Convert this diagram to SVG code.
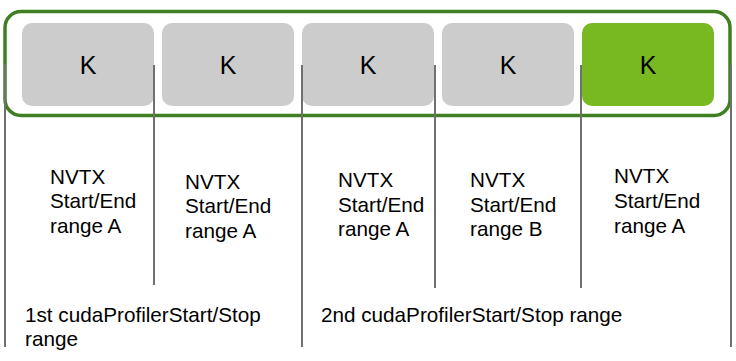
<svg xmlns="http://www.w3.org/2000/svg" width="736" height="361" viewBox="0 0 736 361">
<style>
.k{fill:#cccccc}
.kg{fill:#78b922}
.kt{font-family:"Liberation Sans",Arial,sans-serif;font-size:25px;fill:#000;text-anchor:middle}
.t{font-family:"Liberation Sans",Arial,sans-serif;font-size:20.7px;fill:#000}
.ln{stroke:#707070;stroke-width:2;fill:none}
</style>
<rect width="736" height="361" fill="#ffffff"/>
<g id="container">
<rect x="5" y="11.5" width="725" height="104" rx="16" ry="16" fill="#ffffff" stroke="#3f7f22" stroke-width="3.5"/>
</g>
<g id="k1"><rect class="k" x="22" y="23" width="132" height="83" rx="10"/><text class="kt" x="88" y="74">K</text></g>
<g id="k2"><rect class="k" x="162" y="23" width="132" height="83" rx="10"/><text class="kt" x="228" y="74">K</text></g>
<g id="k3"><rect class="k" x="302" y="23" width="132" height="83" rx="10"/><text class="kt" x="368" y="74">K</text></g>
<g id="k4"><rect class="k" x="442" y="23" width="132" height="83" rx="10"/><text class="kt" x="508" y="74">K</text></g>
<g id="k5"><rect class="kg" x="582" y="23" width="132" height="83" rx="10"/><text class="kt" x="648" y="74">K</text></g>
<g id="connectors">
<line class="ln" x1="5" y1="64" x2="5" y2="347"/>
<line class="ln" x1="154" y1="65" x2="154" y2="285"/>
<line class="ln" x1="302" y1="65" x2="302" y2="347"/>
<line class="ln" x1="435" y1="65" x2="435" y2="288"/>
<line class="ln" x1="581" y1="65" x2="581" y2="288"/>
<line class="ln" x1="731" y1="65" x2="731" y2="347"/>
</g>
<g id="label1"><text class="t" x="50" y="184">NVTX</text><text class="t" x="50" y="208">Start/End</text><text class="t" x="50" y="233">range A</text></g>
<g id="label2"><text class="t" x="185" y="189">NVTX</text><text class="t" x="185" y="213">Start/End</text><text class="t" x="185" y="238">range A</text></g>
<g id="label3"><text class="t" x="338" y="187">NVTX</text><text class="t" x="338" y="212">Start/End</text><text class="t" x="338" y="236">range A</text></g>
<g id="label4"><text class="t" x="470" y="187">NVTX</text><text class="t" x="470" y="212">Start/End</text><text class="t" x="470" y="236">range B</text></g>
<g id="label5"><text class="t" x="614" y="183">NVTX</text><text class="t" x="614" y="208">Start/End</text><text class="t" x="614" y="233">range A</text></g>
<g id="range1"><text class="t" x="25" y="322">1st cudaProfilerStart/Stop</text><text class="t" x="25" y="346">range</text></g>
<g id="range2"><text class="t" x="321" y="322">2nd cudaProfilerStart/Stop range</text></g>
</svg>
